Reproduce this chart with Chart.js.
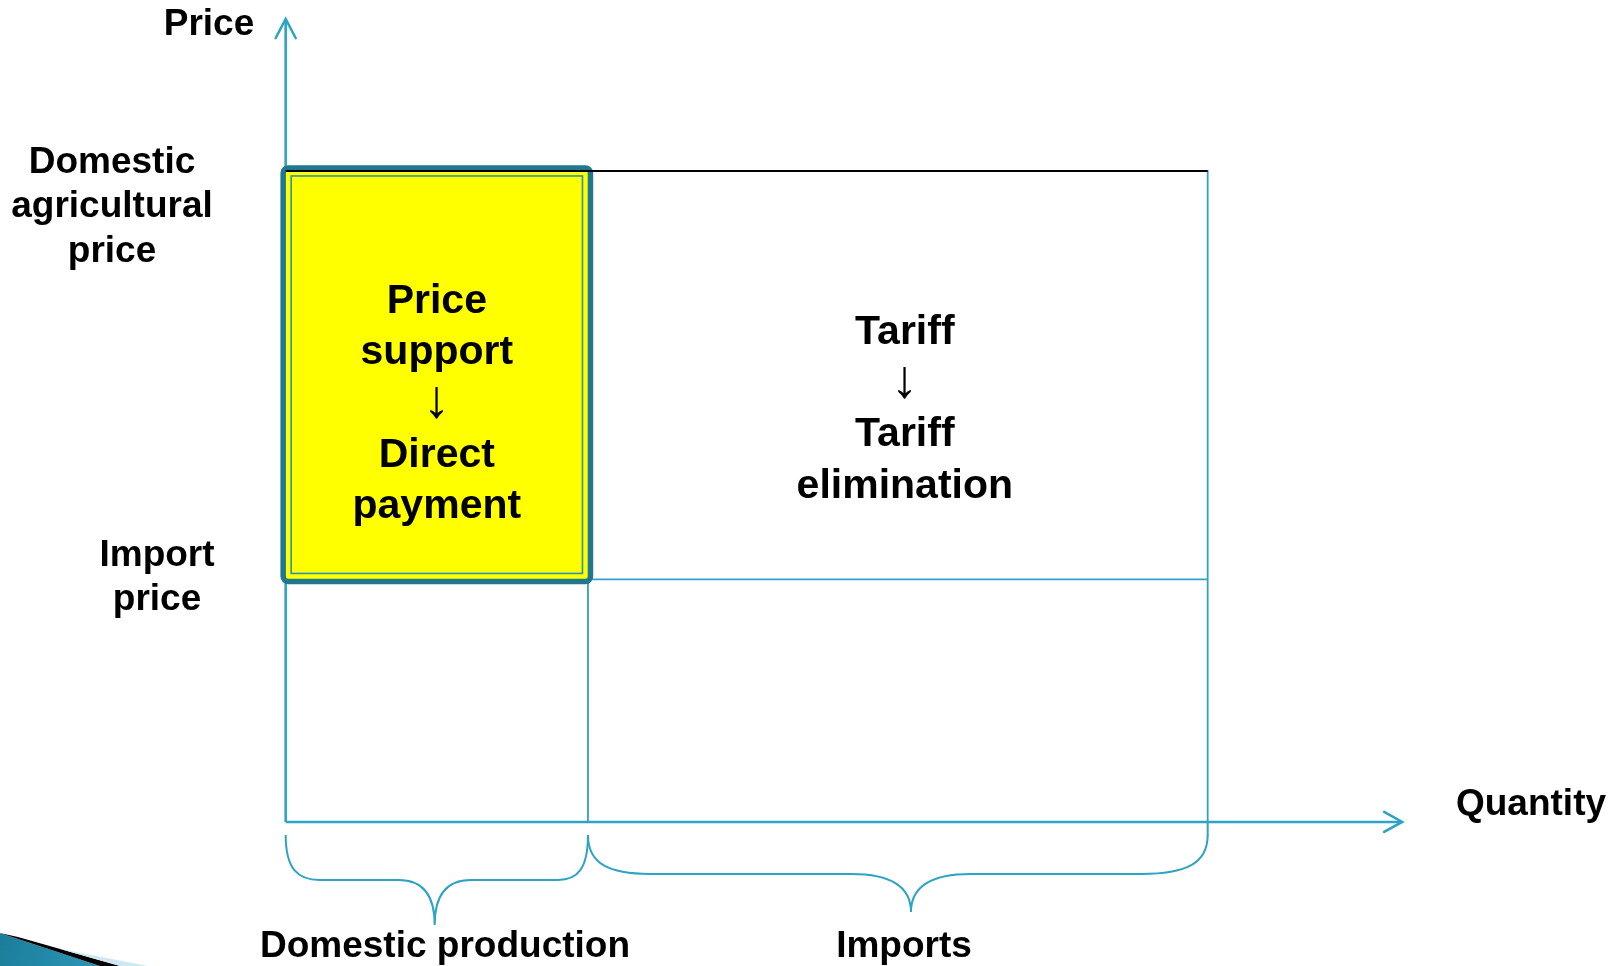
<!DOCTYPE html>
<html>
<head>
<meta charset="utf-8">
<script src="https://cdn.jsdelivr.net/npm/chart.js@4.4.1/dist/chart.umd.min.js"></script>
<style>
  html,body{margin:0;padding:0;background:#fff;overflow:hidden;}
  canvas{display:block;}
</style>
</head>
<body>
<canvas id="c" width="1617" height="966"></canvas>
<script>
// ---- data ----
const quantityLevels = [0, 1.0, 3.05];      // origin, domestic production, domestic production + imports
const priceLevels    = [0, 37.2, 100];      // origin, import price, domestic agricultural price
const axisEnds       = [3.69, 123];         // end of quantity axis, end of price axis
const axisTitles     = ['Quantity', 'Price'];
const priceLabels    = [['Import', 'price'], ['Domestic', 'agricultural', 'price']];
const braceLabels    = ['Domestic production', 'Imports'];
const boxText        = ['Price', 'support', '↓', 'Direct', 'payment'];
const tariffText     = ['Tariff', '↓', 'Tariff', 'elimination'];

const Q0 = quantityLevels[0], QD = quantityLevels[1], QT = quantityLevels[2];
const P0 = priceLevels[0], PI = priceLevels[1], PD = priceLevels[2];

const TEAL = '#2EA3C4';
const DARK = '#20788F';

function seg(a, b){ return [{x:a[0], y:a[1]}, {x:b[0], y:b[1]}]; }
function lineDs(data, w, color){
  return {type:'line', data, borderColor: color || TEAL, borderWidth: w, pointRadius: 0,
          fill:false, tension:0, borderCapStyle:'butt'};
}

const datasets = [
  lineDs(seg([Q0, P0], [Q0, axisEnds[1]]), 2.6),          // price axis
  lineDs(seg([Q0, P0], [axisEnds[0], P0]), 2.6),          // quantity axis
  lineDs(seg([Q0, PI], [QT, PI]), 1.8),                    // import price level
  lineDs(seg([QD, PI], [QD, P0]), 1.8),                    // domestic production split
  lineDs(seg([QT, PD], [QT, P0]), 1.8)                     // total quantity
];

const FONT = '"Liberation Sans", Arial, "DejaVu Sans", sans-serif';

const diagram = {
  id: 'diagram',
  afterDatasetsDraw(chart){
    const ctx = chart.ctx, x = chart.scales.x, y = chart.scales.y;
    const px = v => x.getPixelForValue(v), py = v => y.getPixelForValue(v);
    ctx.save();
    // yellow box (price support area)
    const L = px(Q0), R = px(QD), T = py(PD), B = py(PI);
    const bl = L - 2.5, br = R + 2.5, bt = T - 2, bb = B + 2;
    ctx.beginPath();
    ctx.roundRect(bl, bt, br - bl, bb - bt, 5);
    ctx.fillStyle = '#FFFF00';
    ctx.fill();
    ctx.lineWidth = 5.5;
    ctx.strokeStyle = DARK;
    ctx.stroke();
    ctx.lineWidth = 1.6;
    ctx.strokeStyle = '#2A93B2';
    ctx.strokeRect(bl + 8, bt + 8, br - bl - 16, bb - bt - 16);
    // black top line at domestic price
    ctx.beginPath();
    ctx.moveTo(px(Q0), T + 1);
    ctx.lineTo(px(QT), T + 1);
    ctx.lineWidth = 2;
    ctx.strokeStyle = '#000';
    ctx.stroke();

    // arrowheads
    ctx.strokeStyle = TEAL;
    ctx.lineWidth = 2.6;
    ctx.lineCap = 'round';
    const ax = px(axisEnds[0]), ay = py(P0);
    ctx.beginPath();
    ctx.moveTo(ax - 17, ay - 10); ctx.lineTo(ax + 1, ay); ctx.lineTo(ax - 17, ay + 10);
    ctx.stroke();
    const yx = px(Q0), yy = py(axisEnds[1]);
    ctx.beginPath();
    ctx.moveTo(yx - 10, yy + 18); ctx.lineTo(yx, yy - 1); ctx.lineTo(yx + 10, yy + 18);
    ctx.stroke();

    // braces
    ctx.lineWidth = 2;
    ctx.lineCap = 'butt';
    const base = py(P0);
    function brace(xs, xe, cx, top, mid, tip, r1, r2, r3){
      ctx.beginPath();
      ctx.moveTo(xs, top);
      ctx.bezierCurveTo(xs, top + (mid - top) * 0.75, xs + r1 * 0.35, mid, xs + r1, mid);
      ctx.lineTo(cx - r2, mid);
      ctx.bezierCurveTo(cx - r2 * 0.35, mid, cx, mid + (tip - mid) * 0.3, cx, tip);
      ctx.bezierCurveTo(cx, mid + (tip - mid) * 0.3, cx + r2 * 0.35, mid, cx + r2, mid);
      ctx.lineTo(xe - r3, mid);
      ctx.bezierCurveTo(xe - r3 * 0.35, mid, xe, top + (mid - top) * 0.75, xe, top);
      ctx.stroke();
    }
    brace(px(Q0), px(QD), px(Q0) + 149, base + 13, base + 58, base + 103, 34, 36, 30);
    brace(px(QD), px(QT), px(QD) + 323, base + 13, base + 52, base + 90, 62, 60, 66);
    // right frame line continues down into the brace
    ctx.beginPath();
    ctx.moveTo(px(QT), base); ctx.lineTo(px(QT), base + 14);
    ctx.stroke();
    ctx.restore();
  },
  afterDraw(chart){
    const ctx = chart.ctx, x = chart.scales.x, y = chart.scales.y;
    const px = v => x.getPixelForValue(v), py = v => y.getPixelForValue(v);
    ctx.save();
    ctx.fillStyle = '#000';
    ctx.textAlign = 'center';
    ctx.textBaseline = 'middle';
    function lines(arr, cx, y0, lh, size){
      arr.forEach((t, i) => {
        if (t === '↓') {
          ctx.font = '54px ' + FONT;
          ctx.fillText(t, cx, y0 + i * lh - 2);
        } else {
          ctx.font = 'bold ' + size + 'px ' + FONT;
          ctx.fillText(t, cx, y0 + i * lh);
        }
      });
    }
    // axis titles
    ctx.font = 'bold 37px ' + FONT;
    ctx.fillText(axisTitles[1], 209, 25);
    ctx.fillText(axisTitles[0], 1531, 805);
    // price level labels
    lines(priceLabels[1], 112, 162.5, 44.5, 37);
    lines(priceLabels[0], 157, 555.5, 44.5, 37);
    // brace labels
    ctx.font = 'bold 37px ' + FONT;
    ctx.fillText(braceLabels[0], 445, 947);
    ctx.fillText(braceLabels[1], 904, 947);
    // area labels
    lines(boxText, (px(Q0) + px(QD)) / 2, 301.5, 51.3, 41);
    lines(tariffText, (px(QD) + px(QT)) / 2 + 7, 332.5, 51.3, 41);

    // decorative wedge bottom-left
    const H = chart.height;
    const g = ctx.createLinearGradient(0, H - 33, 90, H);
    g.addColorStop(0, '#1B7D9A');
    g.addColorStop(1, '#2A93B4');
    ctx.beginPath();
    ctx.moveTo(0, H - 33); ctx.lineTo(100, H); ctx.lineTo(0, H); ctx.closePath();
    ctx.fillStyle = g; ctx.fill();
    ctx.beginPath();
    ctx.moveTo(18, H - 29); ctx.lineTo(120, H); ctx.lineTo(100, H); ctx.lineTo(0, H - 33); ctx.closePath();
    ctx.fillStyle = '#000'; ctx.fill();
    ctx.beginPath();
    ctx.moveTo(60, H - 17); ctx.lineTo(148, H); ctx.lineTo(120, H); ctx.closePath();
    ctx.fillStyle = '#CDE8F2'; ctx.fill();
    ctx.restore();
  }
};

new Chart(document.getElementById('c'), {
  type: 'scatter',
  data: { datasets },
  options: {
    responsive: false,
    animation: false,
    devicePixelRatio: 1,
    layout: { padding: 0 },
    scales: {
      x: { type: 'linear', display: false, min: -0.945, max: 4.404 },
      y: { type: 'linear', display: false, min: -22.09, max: 126.07 }
    },
    plugins: { legend: { display: false }, tooltip: { enabled: false }, title: { display: false } },
    events: []
  },
  plugins: [diagram]
});
</script>
</body>
</html>
